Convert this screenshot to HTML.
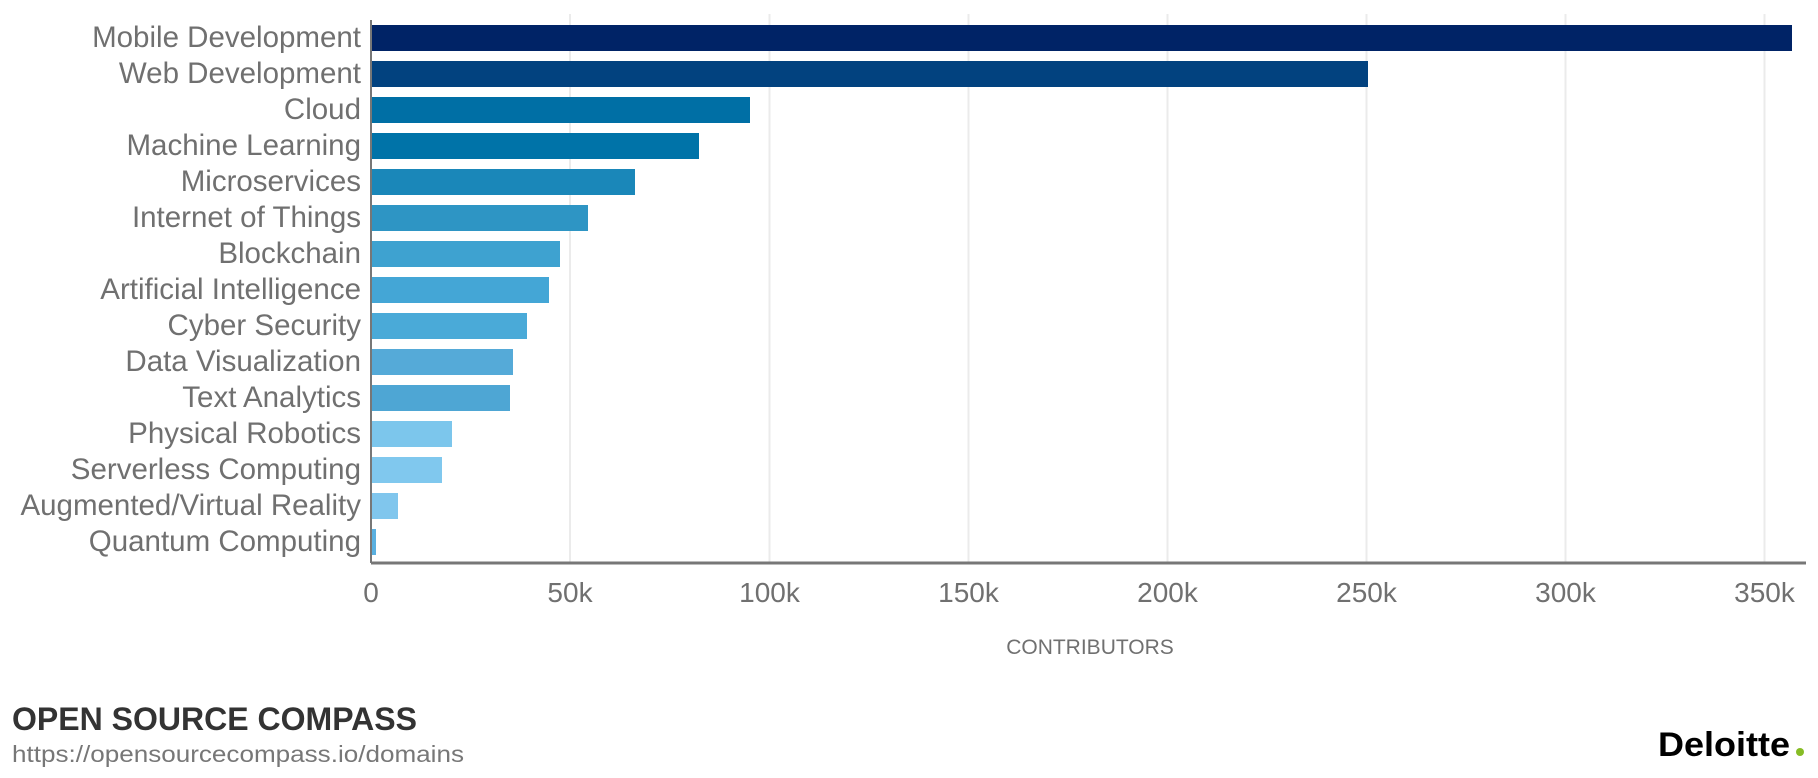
<!DOCTYPE html>
<html><head><meta charset="utf-8"><style>
html,body{margin:0;padding:0;background:#fff}
svg{display:block;font-family:"Liberation Sans",sans-serif}
</style></head><body>
<svg width="1818" height="778" viewBox="0 0 1818 778">
<g stroke="#ebebeb" stroke-width="2">
<line x1="570" y1="14" x2="570" y2="563"/><line x1="769.5" y1="14" x2="769.5" y2="563"/>
<line x1="968.5" y1="14" x2="968.5" y2="563"/><line x1="1167.5" y1="14" x2="1167.5" y2="563"/>
<line x1="1366.5" y1="14" x2="1366.5" y2="563"/><line x1="1565.5" y1="14" x2="1565.5" y2="563"/>
<line x1="1764.5" y1="14" x2="1764.5" y2="563"/>
</g>
<g>
<rect x="372" y="25" width="1420" height="26" fill="#002366"/>
<rect x="372" y="61" width="996" height="26" fill="#02427f"/>
<rect x="372" y="97" width="378" height="26" fill="#006fa5"/>
<rect x="372" y="133" width="327" height="26" fill="#0073a8"/>
<rect x="372" y="169" width="263" height="26" fill="#1a87b9"/>
<rect x="372" y="205" width="216" height="26" fill="#2e95c4"/>
<rect x="372" y="241" width="188" height="26" fill="#3ea2d0"/>
<rect x="372" y="277" width="177" height="26" fill="#44a6d6"/>
<rect x="372" y="313" width="155" height="26" fill="#4aaad8"/>
<rect x="372" y="349" width="141" height="26" fill="#55aad8"/>
<rect x="372" y="385" width="138" height="26" fill="#4ea6d4"/>
<rect x="372" y="421" width="80" height="26" fill="#7cc6ec"/>
<rect x="372" y="457" width="70" height="26" fill="#80c8ee"/>
<rect x="372" y="493" width="26" height="26" fill="#80c6ed"/>
<rect x="372" y="529" width="4" height="26" fill="#5ab0e0"/>
</g>
<line x1="371" y1="20" x2="371" y2="563" stroke="#777" stroke-width="2"/>
<line x1="371" y1="563" x2="1806" y2="563" stroke="#777" stroke-width="3"/>
<g fill="#707070" font-size="29.5" text-anchor="end">
<text x="361" y="47">Mobile Development</text>
<text x="361" y="83">Web Development</text>
<text x="361" y="119">Cloud</text>
<text x="361" y="155">Machine Learning</text>
<text x="361" y="191">Microservices</text>
<text x="361" y="227">Internet of Things</text>
<text x="361" y="263">Blockchain</text>
<text x="361" y="299">Artificial Intelligence</text>
<text x="361" y="335">Cyber Security</text>
<text x="361" y="371">Data Visualization</text>
<text x="361" y="407">Text Analytics</text>
<text x="361" y="443">Physical Robotics</text>
<text x="361" y="479">Serverless Computing</text>
<text x="361" y="515">Augmented/Virtual Reality</text>
<text x="361" y="551">Quantum Computing</text>
</g>
<g fill="#707070" font-size="28" text-anchor="middle">
<text x="371" y="602">0</text><text x="570" y="602">50k</text><text x="769.5" y="602">100k</text>
<text x="968.5" y="602">150k</text><text x="1167.5" y="602">200k</text><text x="1366.5" y="602">250k</text>
<text x="1565.5" y="602">300k</text><text x="1764.5" y="602">350k</text>
</g>
<text x="1090" y="654" fill="#707070" font-size="21" text-anchor="middle">CONTRIBUTORS</text>
<text x="12" y="730" fill="#333" font-size="32" font-weight="bold" textLength="405" lengthAdjust="spacingAndGlyphs">OPEN SOURCE COMPASS</text>
<text x="12" y="762" fill="#777" font-size="23" textLength="452" lengthAdjust="spacingAndGlyphs">https://opensourcecompass.io/domains</text>
<text x="1658" y="756" fill="#000" font-size="34" font-weight="bold" textLength="132" lengthAdjust="spacingAndGlyphs">Deloitte</text>
<circle cx="1800" cy="752" r="4" fill="#86bc25"/>
</svg>
</body></html>
